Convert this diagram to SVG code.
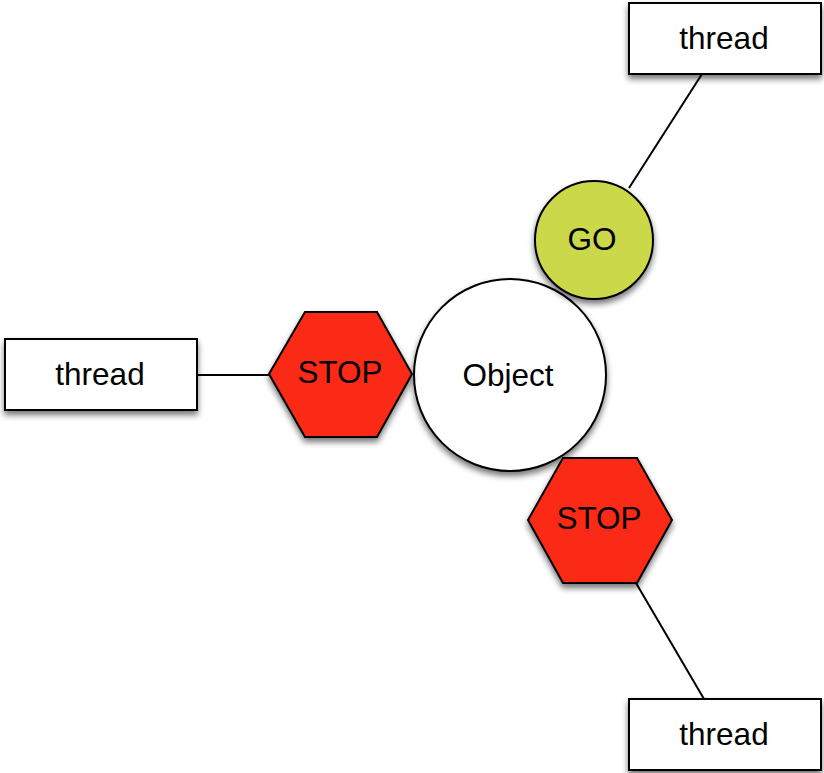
<svg xmlns="http://www.w3.org/2000/svg" width="824" height="773" viewBox="0 0 824 773">
  <style>
    .shape { stroke: #000; stroke-width: 2; filter: url(#shadow); }
    .box { fill: #fff; }
    .stop { fill: #fb2a13; }
    .go { fill: #cbd84a; }
    .obj { fill: #fff; }
    .label { font-family: "Liberation Sans", Arial, sans-serif; font-size: 31.5px; fill: #000; text-anchor: middle; dominant-baseline: central; }
    .wire { stroke: #000; stroke-width: 2; fill: none; }
  </style>
  <defs>
    <filter id="shadow" x="-20%" y="-20%" width="140%" height="150%">
      <feGaussianBlur in="SourceAlpha" stdDeviation="3"/>
      <feOffset dx="0" dy="4" result="off"/>
      <feComponentTransfer><feFuncA type="linear" slope="0.55"/></feComponentTransfer>
      <feMerge><feMergeNode/><feMergeNode in="SourceGraphic"/></feMerge>
    </filter>
  </defs>
  <rect width="824" height="773" fill="#fff"/>

  <g id="connectors">
    <line class="wire" x1="702" y1="74" x2="629" y2="188"/>
    <line class="wire" x1="197" y1="375" x2="270" y2="375"/>
    <line class="wire" x1="636" y1="583" x2="704" y2="699"/>
  </g>

  <g id="object">
    <circle class="shape obj" cx="510" cy="375" r="96"/>
    <text class="label" x="508" y="375">Object</text>
  </g>

  <g id="go">
    <circle class="shape go" cx="594" cy="240" r="59"/>
    <text class="label" x="592" y="239">GO</text>
  </g>

  <g id="stop-left">
    <polygon class="shape stop" points="269,374 305,312 377,312 412,374 377,437 305,437"/>
    <text class="label" x="340" y="372">STOP</text>
  </g>

  <g id="stop-bottom">
    <polygon class="shape stop" points="528,520 563,458 637,458 672,520 637,583 563,583"/>
    <text class="label" x="599" y="518">STOP</text>
  </g>

  <g id="thread-top">
    <rect class="shape box" x="629" y="3" width="192" height="71"/>
    <text class="label" x="724" y="38">thread</text>
  </g>

  <g id="thread-left">
    <rect class="shape box" x="5" y="339" width="192" height="71"/>
    <text class="label" x="100" y="374">thread</text>
  </g>

  <g id="thread-bottom">
    <rect class="shape box" x="629" y="699" width="192" height="71"/>
    <text class="label" x="724" y="734">thread</text>
  </g>
</svg>
